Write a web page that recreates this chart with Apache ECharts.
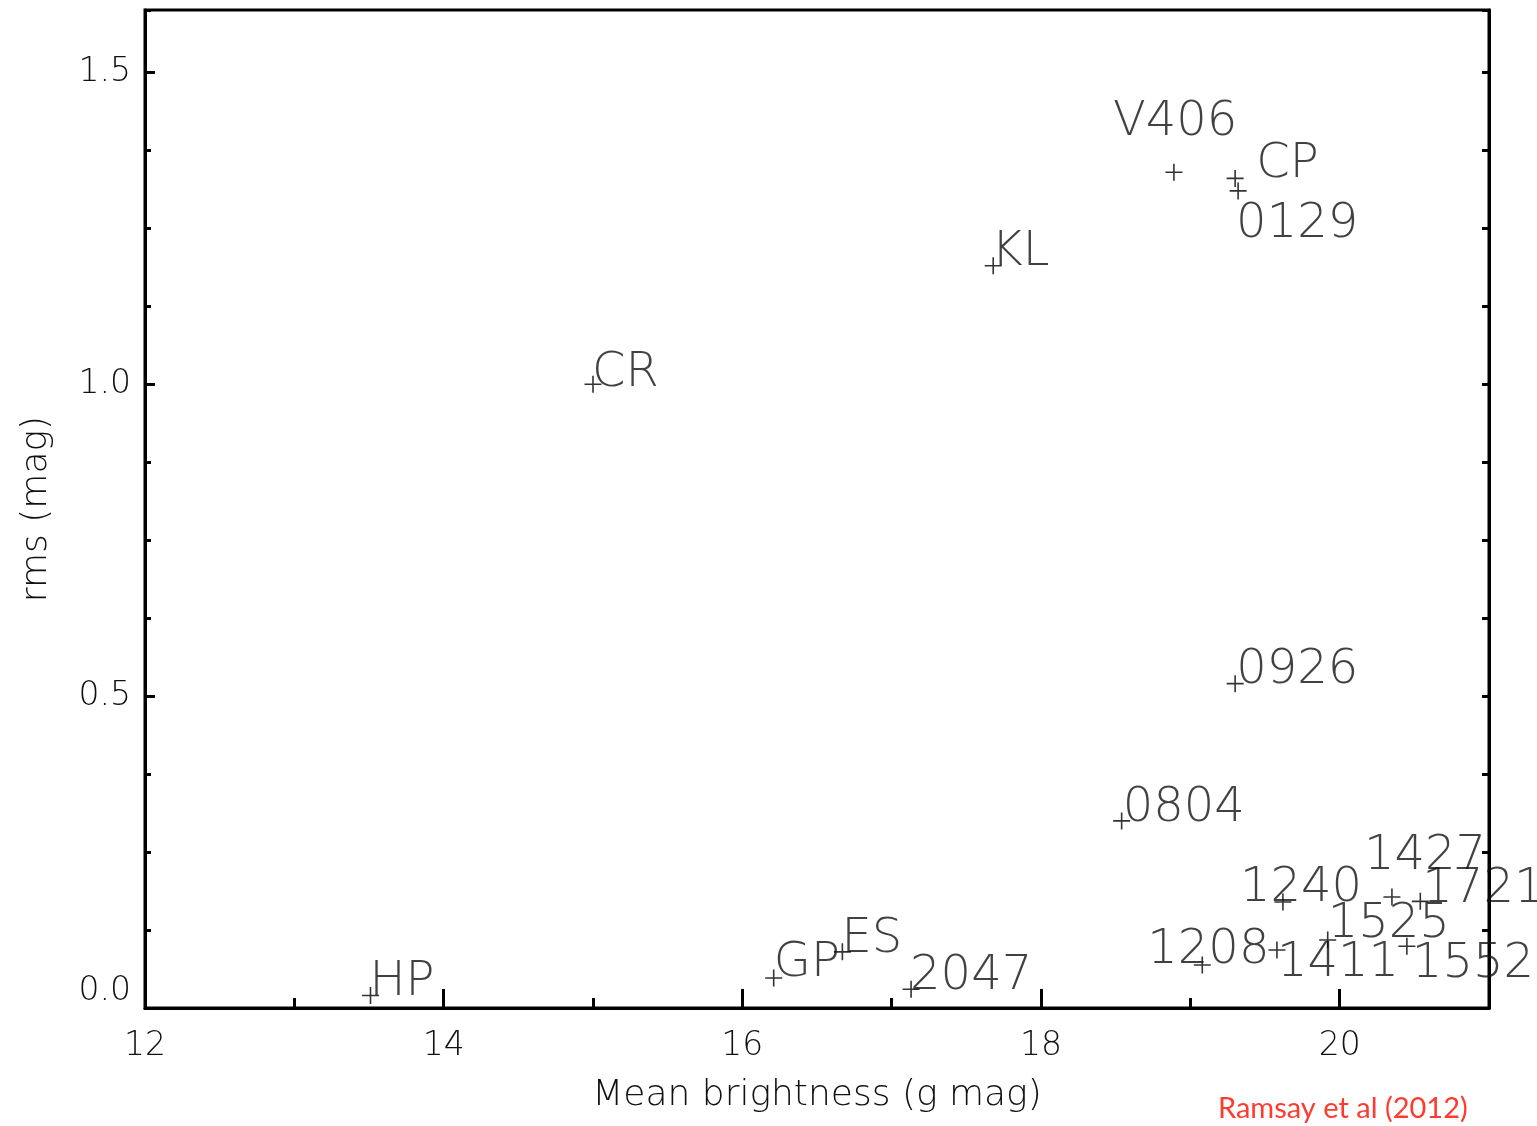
<!DOCTYPE html>
<html>
<head>
<meta charset="utf-8">
<script src="https://cdn.jsdelivr.net/npm/echarts@6/dist/echarts.min.js"></script>
<style>
html,body{margin:0;padding:0;background:#fff;}
#chart{width:1537px;height:1126px;}
</style>
</head>
<body>
<div id="chart"></div>
<script>
// ---- data ----
const names = ['HP','GP','ES','2047','CR','KL','V406','CP','0129','0926','0804','1208','1411','1240','1525','1552','1427','1721'];
const meanBrightness = [13.51,16.21,16.67,17.13,15.00,17.68,18.89,19.30,19.32,19.30,18.54,19.08,19.58,19.62,19.92,20.45,20.35,20.54];
const rmsMag = [0.02,0.048,0.090,0.030,1.00,1.19,1.34,1.33,1.31,0.52,0.30,0.069,0.093,0.170,0.109,0.099,0.178,0.171];
const yTickLabels = ['0.0','0.5','1.0','1.5'];
const xTickLabels = ['12','14','16','18','20'];

// label offsets (style only)
const labelOffsets = {
  'HP':[-1,-13],'CR':[-1,-11],'KL':[-2,-13],'V406':[-61,-50],'CP':[21,-14],'0129':[-2,34],
  '0926':[1,-13],'0804':[1,-12],'GP':[0,-15],'ES':[-1,-12],'2047':[-1,-13],
  '1208':[-55,-14],'1240':[-43,-13],'1427':[-28,-40],'1721':[2,-12],'1525':[0,-15],
  '1411':[0,14],'1552':[5,18]
};

const FONT = 'DejaVu Sans';
const TXT = '#111';

const pts = names.map((n,i)=>({name:n, value:[meanBrightness[i], rmsMag[i]]}));

const chart = echarts.init(document.getElementById('chart'), null, {renderer:'canvas'});
const option = {
  animation:false,
  backgroundColor:'#fff',
  grid:{left:145,right:48,top:10,bottom:118,show:true,borderColor:'#000',borderWidth:3,backgroundColor:'transparent'},
  xAxis:[
    {type:'value',min:12,max:21,interval:2,position:'bottom',
     axisLine:{show:true,lineStyle:{color:'#000',width:3}},
     axisTick:{show:true,inside:true,length:19,lineStyle:{color:'#000',width:3}},
     axisLabel:{show:true,fontFamily:FONT,fontWeight:200,fontSize:33,color:TXT,margin:22,showMaxLabel:false,
       formatter:v=>{const s=String(v);return xTickLabels.indexOf(s)>=0?s:'';}},
     splitLine:{show:false},
     name:'Mean brightness (g mag)',nameLocation:'middle',nameGap:70,
     nameTextStyle:{fontFamily:FONT,fontWeight:200,fontSize:36,color:TXT}},
    {type:'value',min:12,max:21,interval:1,position:'bottom',
     axisLine:{show:false},
     axisTick:{show:true,inside:true,length:10,lineStyle:{color:'#000',width:3}},
     axisLabel:{show:false},splitLine:{show:false}}
  ],
  yAxis:[
    {type:'value',min:0,max:1.6,interval:0.5,position:'left',
     axisLine:{show:true,lineStyle:{color:'#000',width:3}},
     axisTick:{show:true,inside:true,length:10,lineStyle:{color:'#000',width:3}},
     axisLabel:{show:true,fontFamily:FONT,fontWeight:200,fontSize:33,color:TXT,margin:14,showMaxLabel:false,
       verticalAlignMinLabel:'bottom',
       formatter:v=>{const s=v.toFixed(1);return yTickLabels.indexOf(s)>=0?s:'';}},
     splitLine:{show:false},
     name:'rms (mag)',nameLocation:'middle',nameGap:90,nameRotate:90,
     nameTextStyle:{fontFamily:FONT,fontWeight:200,fontSize:36,color:TXT}},
    {type:'value',min:0,max:1.6,interval:0.125,position:'left',
     axisLine:{show:false},
     axisTick:{show:true,inside:true,length:6,lineStyle:{color:'#000',width:3}},
     axisLabel:{show:false},splitLine:{show:false}},
    {type:'value',min:0,max:1.6,interval:0.125,position:'right',
     axisLine:{show:true,lineStyle:{color:'#000',width:3}},
     axisTick:{show:true,inside:true,length:7,lineStyle:{color:'#000',width:3}},
     axisLabel:{show:false},splitLine:{show:false}}
  ],
  series:[{
    type:'scatter',
    xAxisIndex:0,yAxisIndex:0,
    data:pts,
    symbol:'path://M0,5L10,5M5,0L5,10',
    symbolSize:17,
    clip:false,
    itemStyle:{color:'transparent',borderColor:'#000',borderWidth:1.6},
    label:{show:true,position:'inside',align:'left',verticalAlign:'middle',
      formatter:p=>p.name,fontFamily:FONT,fontWeight:200,fontSize:48,color:TXT},
    labelLayout:function(params){
      const n = names[params.dataIndex];
      const o = labelOffsets[n] || [0,0];
      return {dx:o[0], dy:o[1], hideOverlap:false};
    },
    emphasis:{disabled:true},
    z:5
  }],
  graphic:[{
    type:'text',left:1218,top:1094,
    style:{text:'Ramsay et al (2012)',fontFamily:'Lato',fontSize:29,fill:'#ff3b30'}
  }]
};
chart.setOption(option);
</script>
</body>
</html>
